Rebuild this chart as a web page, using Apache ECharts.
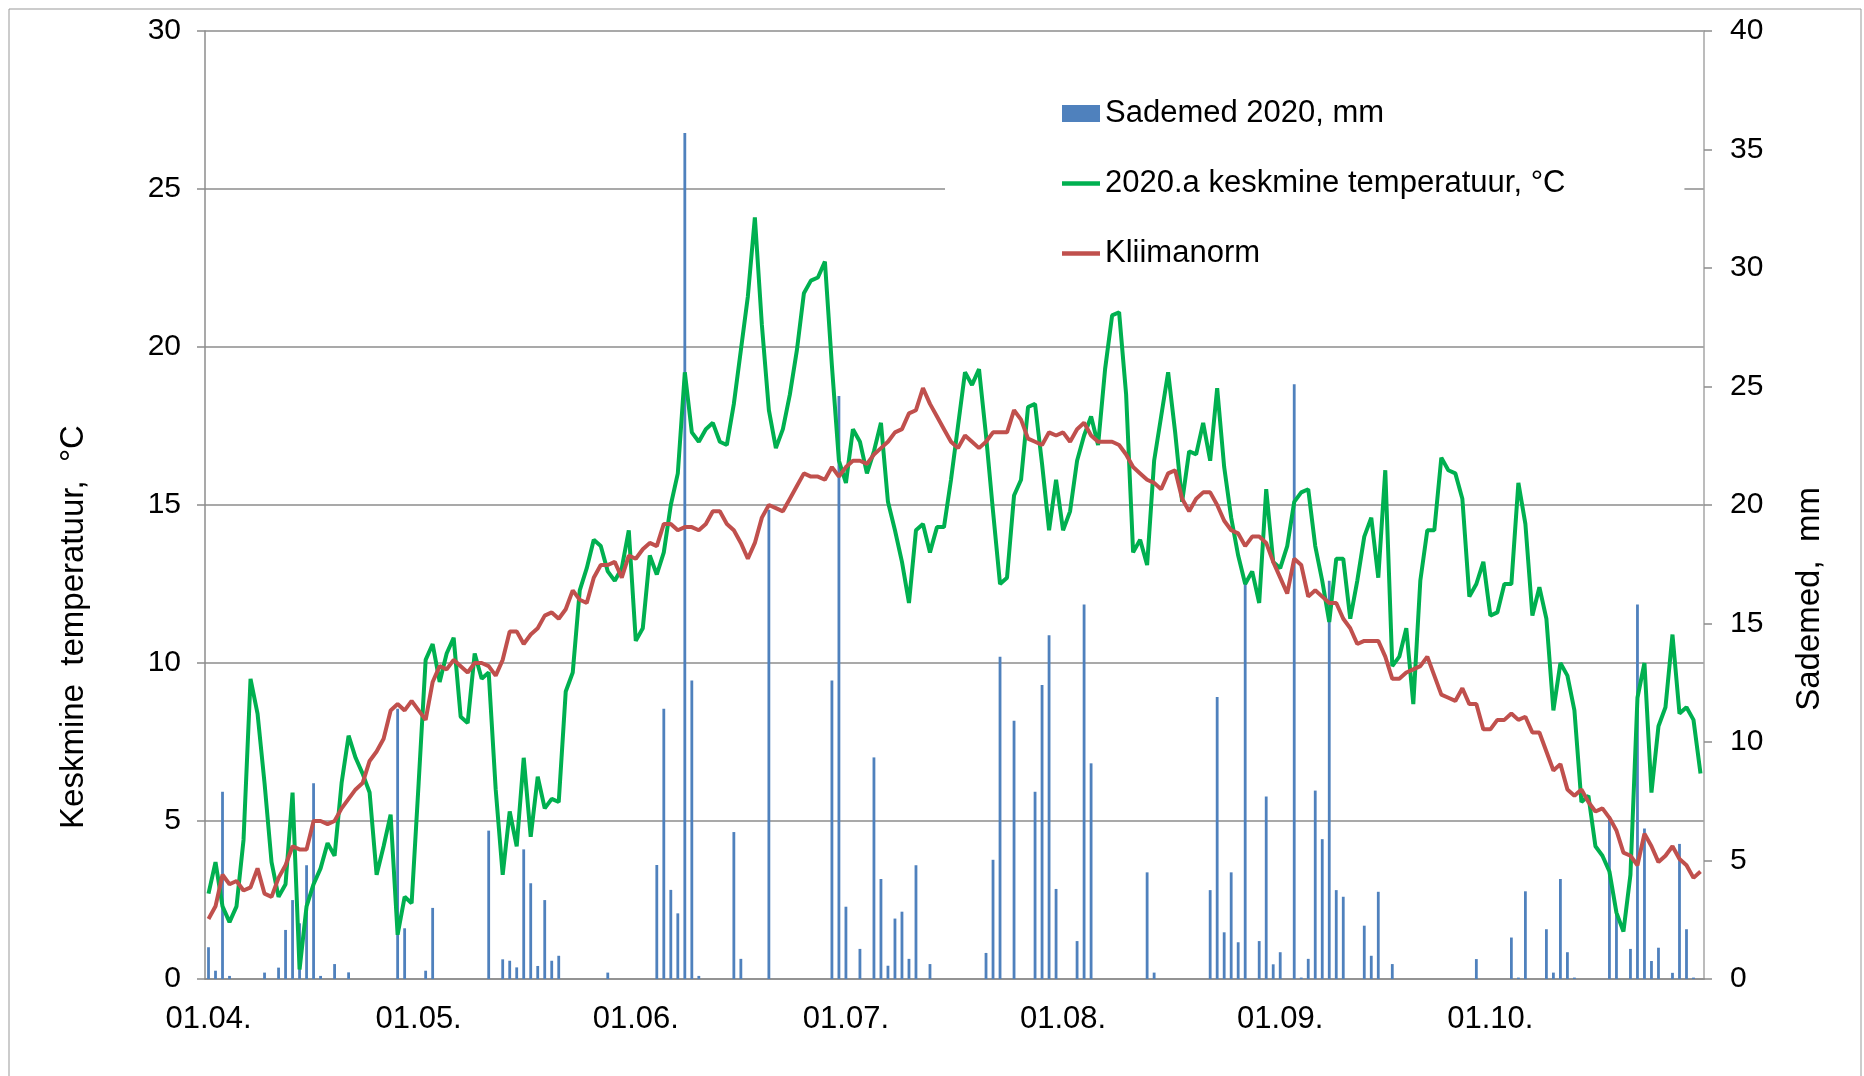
<!DOCTYPE html>
<html>
<head>
<meta charset="utf-8">
<title>Sademed ja temperatuur 2020</title>
<script src="https://cdn.jsdelivr.net/npm/echarts@6/dist/echarts.min.js"></script>
<style>
  html, body { margin: 0; padding: 0; background: #fff; }
  #chart { width: 1864px; height: 1076px; }
</style>
</head>
<body>
<div id="chart"></div>
<script>
// 01.04. - 31.10.2020, one value per day
const months = ['04', '05', '06', '07', '08', '09', '10']
const monthDays = [30, 31, 30, 31, 31, 30, 31]

// Sademed 2020, mm (right axis)
const precip = [
  // april
  1.34, 0.35, 7.9, 0.13, 0, 0, 0, 0, 0.27, 0, 0.48, 2.07, 3.33, 2.35, 4.8, 8.26, 0.13, 0, 0.63, 0,
  0.28, 0, 0, 0, 0, 0, 0, 11.4, 2.14, 0,
  // mai
  0, 0.35, 3.0, 0, 0, 0, 0, 0, 0, 0, 6.26, 0, 0.83, 0.77, 0.49, 5.47, 4.04, 0.55, 3.33, 0.77,
  0.98, 0, 0, 0, 0, 0, 0, 0.27, 0, 0, 0,
  // juuni
  0, 0, 0, 4.81, 11.4, 3.76, 2.77, 35.7, 12.6, 0.13, 0, 0, 0, 0, 6.2, 0.85, 0, 0, 0, 19.8,
  0, 0, 0, 0, 0, 0, 0, 0, 12.6, 24.6,
  // juuli
  3.05, 0, 1.27, 0, 9.35, 4.22, 0.56, 2.55, 2.84, 0.85, 4.8, 0, 0.63, 0, 0, 0, 0, 0, 0, 0,
  1.1, 5.03, 13.6, 0, 10.9, 0, 0, 7.9, 12.4, 14.5, 3.8,
  // august
  0, 0, 1.6, 15.8, 9.1, 0, 0, 0, 0, 0, 0, 0, 4.5, 0.27, 0, 0, 0, 0, 0, 0,
  0, 3.75, 11.9, 1.97, 4.5, 1.55, 16.7, 0, 1.6, 7.7, 0.62,
  // september
  1.13, 0, 25.1, 0.06, 0.85, 7.95, 5.9, 16.8, 3.75, 3.47, 0, 0, 2.25, 0.98, 3.68, 0, 0.63, 0, 0, 0,
  0, 0, 0, 0, 0, 0, 0, 0, 0.84, 0,
  // oktoober
  0, 0, 0, 1.75, 0.06, 3.7, 0, 0, 2.1, 0.27, 4.22, 1.13, 0.06, 0, 0, 0, 0, 6.87, 2.8, 0,
  1.27, 15.8, 6.35, 0.76, 1.32, 0, 0.26, 5.7, 2.1, 0.06, 0,
]

// 2020.a keskmine temperatuur, °C
const temp2020 = [
  2.7, 3.7, 2.3, 1.8, 2.3, 4.4, 9.5, 8.4, 6.2, 3.7, 2.6, 3.0, 5.9, 0.3, 2.3, 3.0, 3.5, 4.3, 3.9, 6.2,
  7.7, 7.0, 6.5, 5.9, 3.3, 4.2, 5.2, 1.4, 2.6, 2.4,
  6.2, 10.1, 10.6, 9.4, 10.3, 10.8, 8.3, 8.1, 10.3, 9.5, 9.7, 6.0, 3.3, 5.3, 4.2, 7.0, 4.5, 6.4, 5.4, 5.7,
  5.6, 9.1, 9.7, 12.3, 13.0, 13.9, 13.7, 12.9, 12.6, 13.0, 14.2,
  10.7, 11.1, 13.4, 12.8, 13.5, 15.0, 16.0, 19.2, 17.3, 17.0, 17.4, 17.6, 17.0, 16.9, 18.2, 19.9, 21.6, 24.1, 20.7, 18.0,
  16.8, 17.4, 18.5, 19.9, 21.7, 22.1, 22.2, 22.7, 19.4, 16.4,
  15.7, 17.4, 17.0, 16.0, 16.7, 17.6, 15.1, 14.2, 13.2, 11.9, 14.2, 14.4, 13.5, 14.3, 14.3, 15.8, 17.5, 19.2, 18.8, 19.3,
  17.2, 14.8, 12.5, 12.7, 15.3, 15.8, 18.1, 18.2, 16.3, 14.2, 15.8,
  14.2, 14.8, 16.4, 17.2, 17.8, 16.9, 19.3, 21.0, 21.1, 18.5, 13.5, 13.9, 13.1, 16.4, 17.8, 19.2, 17.3, 15.1, 16.7, 16.6,
  17.6, 16.4, 18.7, 16.2, 14.6, 13.4, 12.5, 12.9, 11.9, 15.5, 13.2,
  13.0, 13.7, 15.1, 15.4, 15.5, 13.7, 12.6, 11.3, 13.3, 13.3, 11.4, 12.6, 14.0, 14.6, 12.7, 16.1, 9.9, 10.2, 11.1, 8.7,
  12.6, 14.2, 14.2, 16.5, 16.1, 16.0, 15.2, 12.1, 12.5, 13.2,
  11.5, 11.6, 12.5, 12.5, 15.7, 14.4, 11.5, 12.4, 11.4, 8.5, 10.0, 9.6, 8.5, 5.6, 5.8, 4.2, 3.9, 3.4, 2.1, 1.5,
  3.3, 8.9, 10.0, 5.9, 8.0, 8.6, 10.9, 8.4, 8.6, 8.2, 6.5,
]

// Kliimanorm, °C
const norm = [
  1.9, 2.3, 3.3, 3.0, 3.1, 2.8, 2.9, 3.5, 2.7, 2.6, 3.2, 3.6, 4.2, 4.1, 4.1, 5.0, 5.0, 4.9, 5.0, 5.4,
  5.7, 6.0, 6.2, 6.9, 7.2, 7.6, 8.5, 8.7, 8.5, 8.8,
  8.5, 8.2, 9.4, 9.9, 9.8, 10.1, 9.9, 9.7, 10.0, 10.0, 9.9, 9.6, 10.1, 11.0, 11.0, 10.6, 10.9, 11.1, 11.5, 11.6,
  11.4, 11.7, 12.3, 12.0, 11.9, 12.7, 13.1, 13.1, 13.2, 12.7, 13.4,
  13.3, 13.6, 13.8, 13.7, 14.4, 14.4, 14.2, 14.3, 14.3, 14.2, 14.4, 14.8, 14.8, 14.4, 14.2, 13.8, 13.3, 13.8, 14.6, 15.0,
  14.9, 14.8, 15.2, 15.6, 16.0, 15.9, 15.9, 15.8, 16.2, 15.9,
  16.2, 16.4, 16.4, 16.3, 16.6, 16.8, 17.0, 17.3, 17.4, 17.9, 18.0, 18.7, 18.2, 17.8, 17.4, 17.0, 16.8, 17.2, 17.0, 16.8,
  17.0, 17.3, 17.3, 17.3, 18.0, 17.7, 17.1, 17.0, 16.9, 17.3, 17.2,
  17.3, 17.0, 17.4, 17.6, 17.2, 17.0, 17.0, 17.0, 16.9, 16.6, 16.2, 16.0, 15.8, 15.7, 15.5, 16.0, 16.1, 15.2, 14.8, 15.2,
  15.4, 15.4, 15.0, 14.5, 14.2, 14.1, 13.7, 14.0, 14.0, 13.8, 13.2,
  12.7, 12.2, 13.3, 13.1, 12.1, 12.3, 12.1, 11.9, 11.9, 11.4, 11.1, 10.6, 10.7, 10.7, 10.7, 10.2, 9.5, 9.5, 9.7, 9.8,
  9.9, 10.2, 9.6, 9.0, 8.9, 8.8, 9.2, 8.7, 8.7, 7.9,
  7.9, 8.2, 8.2, 8.4, 8.2, 8.3, 7.8, 7.8, 7.2, 6.6, 6.8, 6.0, 5.8, 6.0, 5.6, 5.3, 5.4, 5.1, 4.7, 4.0,
  3.9, 3.6, 4.6, 4.2, 3.7, 3.9, 4.2, 3.8, 3.6, 3.2, 3.4,
]

const days = []
months.forEach((m, k) => {
  for (let d = 1; d <= monthDays[k]; d++) {
    days.push((d < 10 ? '0' + d : '' + d) + '.' + m + '.')
  }
})

const isMonthStart = (idx, val) => val.slice(0, 3) === '01.'
const font = 'Liberation Sans, Arial, sans-serif'
const gray = '#8c8c8c'
// plain line icon for the line series in the legend
const lineIcon = 'path://M0,0L38,0L38,4.5L0,4.5Z'

const chart = echarts.init(document.getElementById('chart'))
chart.setOption({
  animation: false,
  textStyle: { fontFamily: font },
  grid: { left: 205, right: 160, top: 31, bottom: 97 },
  legend: {
    orient: 'vertical',
    left: 945,
    top: 58,
    padding: [40, 119, 40, 117],
    backgroundColor: '#fff',
    itemWidth: 38,
    itemHeight: 17,
    itemGap: 39,
    textStyle: { fontSize: 31, color: '#000', lineHeight: 30 },
    data: [
      { name: 'Sademed 2020, mm', icon: 'rect' },
      { name: '2020.a keskmine temperatuur, °C', icon: lineIcon },
      { name: 'Kliimanorm', icon: lineIcon },
    ],
  },
  xAxis: {
    type: 'category',
    data: days,
    boundaryGap: true,
    axisLine: { lineStyle: { color: gray, width: 1.5 } },
    axisTick: { interval: isMonthStart, length: 10, lineStyle: { color: gray, width: 1.5 } },
    axisLabel: { interval: isMonthStart, fontSize: 31, color: '#000', margin: 25 },
    splitLine: { show: false },
  },
  yAxis: [
    {
      type: 'value',
      min: 0,
      max: 30,
      interval: 5,
      position: 'left',
      axisLine: { show: true, lineStyle: { color: gray, width: 1.5 } },
      axisTick: { show: true, length: 8, lineStyle: { color: gray, width: 1.5 } },
      axisLabel: { fontSize: 30, color: '#000', margin: 24 },
      splitLine: { lineStyle: { color: gray, width: 1.5 } },
    },
    {
      type: 'value',
      min: 0,
      max: 40,
      interval: 5,
      position: 'right',
      axisLine: { show: true, lineStyle: { color: '#a6a6a6', width: 1.5 } },
      axisTick: { show: true, length: 8, lineStyle: { color: gray, width: 1.5 } },
      axisLabel: { fontSize: 30, color: '#000', margin: 26 },
      splitLine: { show: false },
    },
  ],
  series: [
    {
      name: 'Sademed 2020, mm',
      type: 'bar',
      yAxisIndex: 1,
      data: precip,
      barWidth: 2.8,
      itemStyle: { color: '#4f81bd' },
    },
    {
      name: '2020.a keskmine temperatuur, °C',
      type: 'line',
      data: temp2020,
      symbol: 'none',
      lineStyle: { color: '#00b050', width: 4 },
      itemStyle: { color: '#00b050' },
    },
    {
      name: 'Kliimanorm',
      type: 'line',
      data: norm,
      symbol: 'none',
      lineStyle: { color: '#c0504d', width: 4 },
      itemStyle: { color: '#c0504d' },
    },
  ],
  graphic: [
    {
      type: 'rect',
      shape: { x: 9, y: 9, width: 1852, height: 1100 },
      style: { fill: 'none', stroke: '#999', lineWidth: 1 },
      silent: true,
    },
    {
      type: 'text',
      x: 74,
      y: 627,
      rotation: Math.PI / 2,
      style: {
        text: 'Keskmine  temperatuur,  °C',
        font: '33px ' + font,
        fill: '#000',
        align: 'center',
        verticalAlign: 'middle',
      },
    },
    {
      type: 'text',
      x: 1810,
      y: 599,
      rotation: Math.PI / 2,
      style: {
        text: 'Sademed,  mm',
        font: '33px ' + font,
        fill: '#000',
        align: 'center',
        verticalAlign: 'middle',
      },
    },
  ],
})
</script>
</body>
</html>
